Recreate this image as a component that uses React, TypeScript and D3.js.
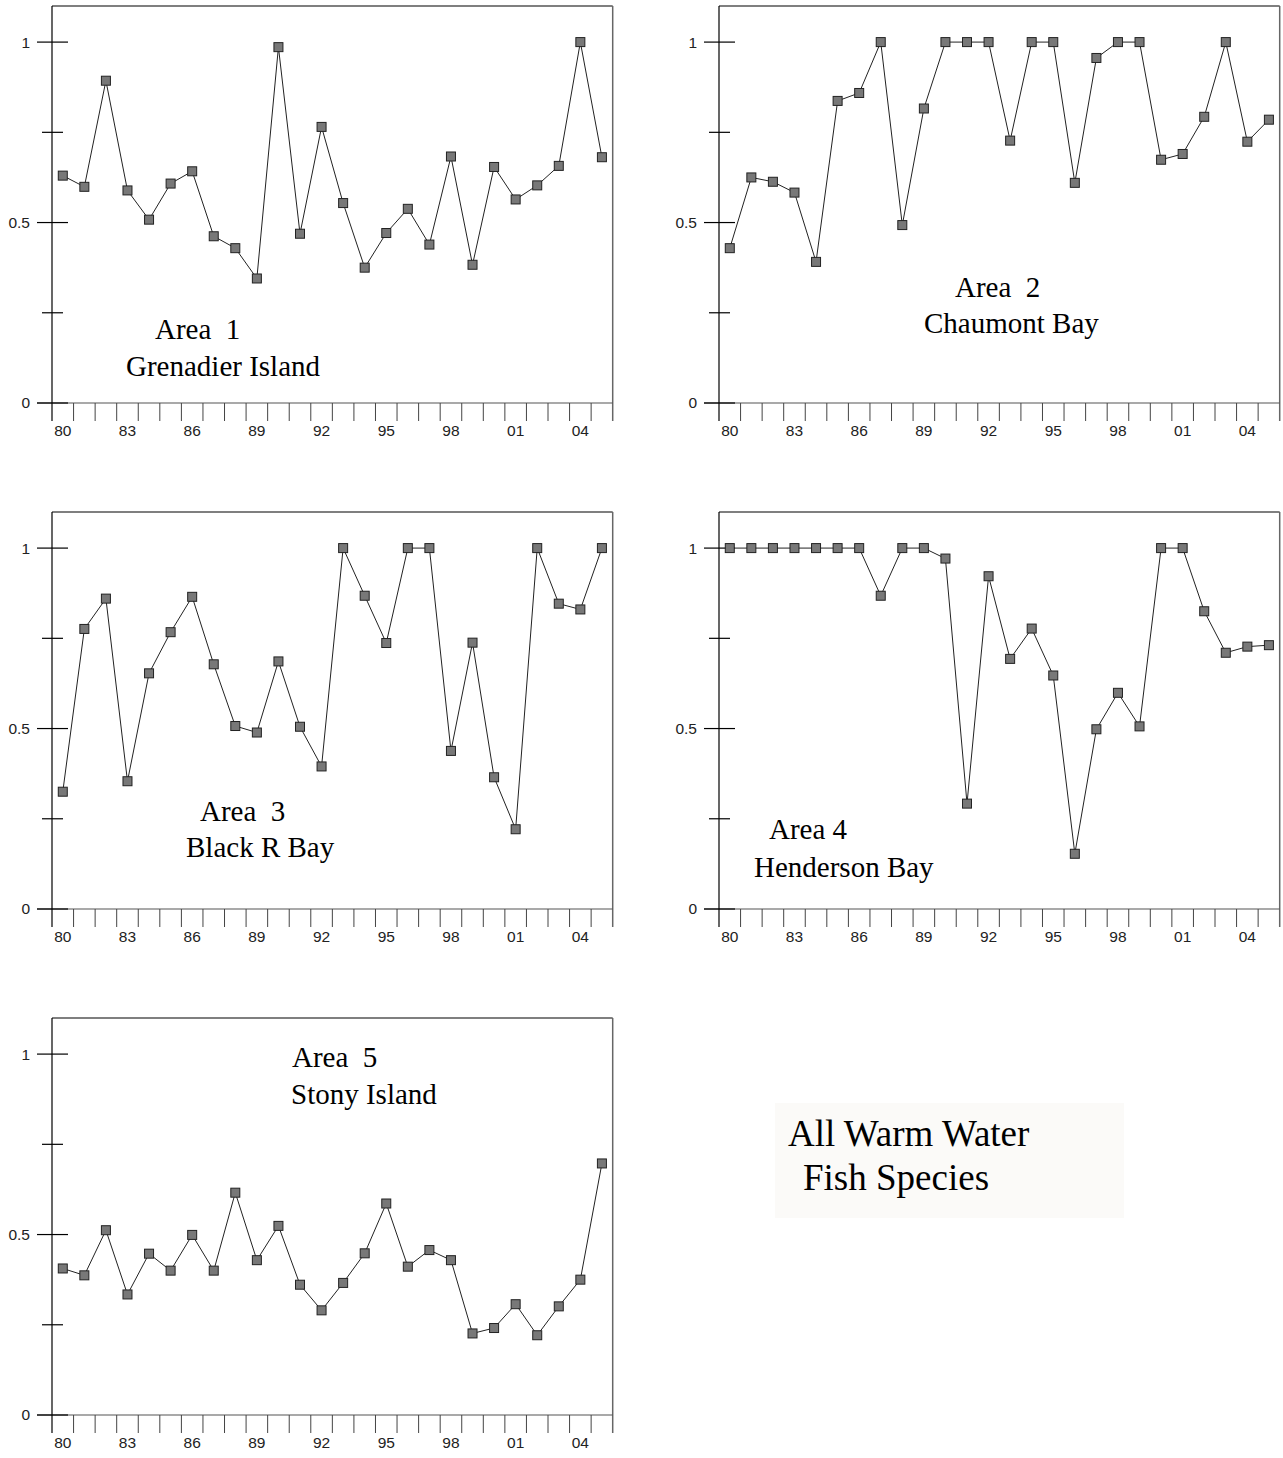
import * as d3 from 'd3'

const years = d3.range(1980, 2006)
const labelYears = [1980, 1983, 1986, 1989, 1992, 1995, 1998, 2001, 2004]
const yTicks = [0, 0.25, 0.5, 0.75, 1]
const yLabels = ['0', '', '0.5', '', '1']

const area1 = [0.63, 0.599, 0.893, 0.589, 0.508, 0.608, 0.642, 0.462, 0.429, 0.345, 0.986, 0.469, 0.765,
  0.554, 0.375, 0.471, 0.538, 0.439, 0.683, 0.383, 0.654, 0.564, 0.603, 0.657, 1.0, 0.681]
const area2 = [0.429, 0.625, 0.613, 0.583, 0.391, 0.837, 0.859, 1.0, 0.493, 0.816, 1.0, 1.0, 1.0,
  0.727, 1.0, 1.0, 0.61, 0.956, 1.0, 1.0, 0.674, 0.69, 0.793, 1.0, 0.724, 0.785]
const area3 = [0.325, 0.776, 0.86, 0.354, 0.653, 0.767, 0.865, 0.678, 0.507, 0.489, 0.686, 0.505, 0.395,
  1.0, 0.868, 0.737, 1.0, 1.0, 0.438, 0.738, 0.365, 0.221, 1.0, 0.846, 0.83, 1.0]
const area4 = [1.0, 1.0, 1.0, 1.0, 1.0, 1.0, 1.0, 0.868, 1.0, 1.0, 0.971, 0.292, 0.922,
  0.693, 0.777, 0.647, 0.153, 0.498, 0.599, 0.506, 1.0, 1.0, 0.825, 0.71, 0.727, 0.731]
const area5 = [0.406, 0.387, 0.512, 0.334, 0.447, 0.4, 0.499, 0.4, 0.616, 0.429, 0.524, 0.361, 0.29,
  0.366, 0.448, 0.586, 0.411, 0.457, 0.429, 0.226, 0.241, 0.307, 0.221, 0.301, 0.375, 0.697]

const areaNames = ['Area  1', 'Area  2', 'Area  3', 'Area 4', 'Area  5']
const placeNames = ['Grenadier Island', 'Chaumont Bay', 'Black R Bay', 'Henderson Bay', 'Stony Island']
const series = [area1, area2, area3, area4, area5]

const W = 560.7
const H = 397
// panel origin + label offsets (line 1, line 2)
const layout = [
  { x: 52, y: 6, l1: [103, 333], l2: [74, 370] },
  { x: 719, y: 6, l1: [236, 291], l2: [205, 327] },
  { x: 52, y: 512, l1: [148, 309], l2: [134, 345] },
  { x: 719, y: 512, l1: [50, 327], l2: [35, 365] },
  { x: 52, y: 1018, l1: [240, 49], l2: [239, 86] },
]

const xScale = d3.scaleBand<number>().domain(years).range([0, W]).paddingInner(0).paddingOuter(0)
const yScale = d3.scaleLinear().domain([0, 1.1]).range([H, 0])
const bw = xScale.bandwidth()
const cx = (yr: number) => (xScale(yr) ?? 0) + bw / 2

const line = d3.line<number>()
  .x((_, i) => cx(years[i]))
  .y((d) => yScale(d))

const sans = '"Liberation Sans", Arial, sans-serif'
const serif = '"Liberation Serif", "Times New Roman", serif'

function Panel({ idx }: { idx: number }) {
  const L = layout[idx]
  const data = series[idx]
  const boundaries = years.map((yr) => xScale(yr) ?? 0).concat([W])
  return (
    <g transform={`translate(${L.x},${L.y})`}>
      {/* frame */}
      <line x1={0} x2={W} y1={0} y2={0} stroke="#000" strokeWidth={1.2} />
      <line x1={W} x2={W} y1={0} y2={H + 18} stroke="#666" strokeWidth={1.5} />
      <line x1={-15} x2={W} y1={H} y2={H} stroke="#555" strokeWidth={1.2} />
      <line x1={0} x2={0} y1={0} y2={H + 18} stroke="#000" strokeWidth={1.2} />

      {/* x ticks at band boundaries */}
      {boundaries.slice(1, -1).map((b, i) => (
        <line key={i} x1={b} x2={b} y1={H} y2={H + 18} stroke="#444" strokeWidth={1} />
      ))}
      {labelYears.map((yr) => (
        <text key={yr} x={cx(yr)} y={H + 33} textAnchor="middle" fontFamily={sans} fontSize={15.5} fill="#222">
          {String(yr % 100).padStart(2, '0')}
        </text>
      ))}

      {/* y ticks */}
      {yTicks.map((t, i) => {
        const major = yLabels[i] !== ''
        return (
          <g key={t} transform={`translate(0,${yScale(t)})`}>
            <line x1={major ? -15 : -10} x2={major ? 16 : 11} stroke="#000" strokeWidth={1.2} />
            {major && (
              <text x={-22} dy="0.35em" textAnchor="end" fontFamily={sans} fontSize={15.5} fill="#222">
                {yLabels[i]}
              </text>
            )}
          </g>
        )
      })}

      {/* series */}
      <path d={line(data) ?? ''} fill="none" stroke="#222" strokeWidth={1} />
      {data.map((v, i) => (
        <rect key={i} x={cx(years[i]) - 4.5} y={yScale(v) - 4.5} width={9} height={9}
          fill="#787878" stroke="#222" strokeWidth={1} />
      ))}

      <text x={L.l1[0]} y={L.l1[1]} fontFamily={serif} fontSize={29} fill="#000" style={{ whiteSpace: 'pre' }}>
        {areaNames[idx]}
      </text>
      <text x={L.l2[0]} y={L.l2[1]} fontFamily={serif} fontSize={29} fill="#000" style={{ whiteSpace: 'pre' }}>
        {placeNames[idx]}
      </text>
    </g>
  )
}

export default function App() {
  return (
    <svg width={1283} height={1458} style={{ position: 'absolute', left: 0, top: 0, background: '#fff' }}>
      <rect x={0} y={0} width={1283} height={1458} fill="#fff" />
      {series.map((_, i) => <Panel key={i} idx={i} />)}
      <rect x={775} y={1103} width={349} height={115} fill="#fbfaf8" />
      <text x={788} y={1146} fontFamily={serif} fontSize={37} fill="#000">All Warm Water</text>
      <text x={803} y={1190} fontFamily={serif} fontSize={37} fill="#000">Fish Species</text>
    </svg>
  )
}
